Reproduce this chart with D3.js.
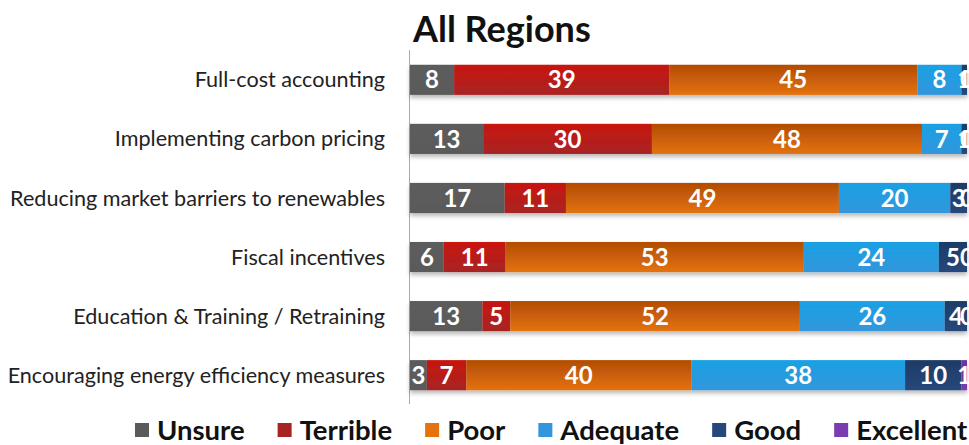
<!DOCTYPE html>
<html>
<head>
<meta charset="utf-8">
<script src="https://cdn.jsdelivr.net/npm/d3@7"></script>
<style>
  html, body { margin: 0; padding: 0; background: #fff; }
  svg { display: block; font-family: Lato, "Open Sans", sans-serif; }
</style>
</head>
<body>
<div id="chart"></div>
<script>
// les données
const categories = [
  "Full-cost accounting",
  "Implementing carbon pricing",
  "Reducing market barriers to renewables",
  "Fiscal incentives",
  "Education & Training / Retraining",
  "Encouraging energy efficiency measures"
];
const series = ["Unsure", "Terrible", "Poor", "Adequate", "Good", "Excellent"];
const unsure    = [8, 13, 17, 6, 13, 3];
const terrible  = [39, 30, 11, 11, 5, 7];
const poor      = [45, 48, 49, 53, 52, 40];
const adequate  = [8, 7, 20, 24, 26, 38];
const good      = [1, 1, 3, 5, 4, 10];
const excellent = [0, 0, 0, 0, 0, 1];

// couleurs : haut / bas du dégradé
const colors = [
  ["#5c5c5c", "#5a5a5a"],
  ["#c8160e", "#a82424"],
  ["#b24c04", "#e4720e"],
  ["#1aa0e4", "#3296dc"],
  ["#1e3c66", "#26477a"],
  ["#7030a0", "#7a3cb0"]
];

const values = [unsure, terrible, poor, adequate, good, excellent];
const rows = categories.map((c, i) => {
  const r = { name: c };
  series.forEach((s, j) => r[s] = values[j][i]);
  return r;
});

const W = 969, H = 445;
const margin = { top: 50, right: 2, bottom: 40, left: 410 };

const svg = d3.select("#chart").append("svg")
  .attr("width", W).attr("height", H);

const defs = svg.append("defs");
colors.forEach((c, j) => {
  const g = defs.append("linearGradient")
    .attr("id", "grad" + j)
    .attr("x1", 0).attr("y1", 0).attr("x2", 0).attr("y2", 1);
  g.append("stop").attr("offset", "0%").attr("stop-color", c[0]);
  g.append("stop").attr("offset", "100%").attr("stop-color", c[1]);
});
const filter = defs.append("filter").attr("id", "shadow")
  .attr("x", "-5%").attr("y", "-20%").attr("width", "110%").attr("height", "160%");
filter.append("feDropShadow")
  .attr("dx", 0).attr("dy", 3).attr("stdDeviation", 2)
  .attr("flood-color", "#000").attr("flood-opacity", 0.28);

// échelles (100 % empilé)
const x = d3.scaleLinear()
  .domain([0, 1])
  .range([margin.left, W - margin.right]);

const y = d3.scaleBand()
  .domain(categories)
  .range([margin.top, H - margin.bottom])
  .paddingInner(0.49)
  .paddingOuter(0.25);

const stacked = d3.stack()
  .keys(series)
  .offset(d3.stackOffsetExpand)(rows);

// titre
svg.append("text")
  .attr("x", 413).attr("y", 42)
  .attr("font-size", 36).attr("font-weight", 700)
  .attr("fill", "#111")
  .text("All Regions");

// axe vertical
svg.append("line")
  .attr("x1", margin.left - 0.5).attr("x2", margin.left - 0.5)
  .attr("y1", 50).attr("y2", 404)
  .attr("stroke", "#aaa").attr("stroke-width", 1);

// libellés des catégories
svg.append("g")
  .selectAll("text")
  .data(categories)
  .join("text")
  .attr("x", 385)
  .attr("y", d => y(d) + y.bandwidth() / 2)
  .attr("dy", "0.35em")
  .attr("text-anchor", "end")
  .attr("font-size", 21.6)
  .attr("fill", "#222")
  .text(d => d);

// barres
const layers = svg.append("g").attr("filter", "url(#shadow)")
  .selectAll("g")
  .data(stacked)
  .join("g")
  .attr("fill", (d, j) => "url(#grad" + j + ")");

layers.selectAll("rect")
  .data(d => d)
  .join("rect")
  .attr("x", d => x(d[0]))
  .attr("y", d => y(d.data.name))
  .attr("width", d => Math.max(0, x(d[1]) - x(d[0])))
  .attr("height", y.bandwidth());

// étiquettes de valeurs
const labels = svg.append("g")
  .selectAll("g")
  .data(stacked)
  .join("g");

labels.selectAll("text")
  .data(d => d.map(p => ({ p: p, key: d.key })))
  .join("text")
  .attr("x", d => (x(d.p[0]) + x(d.p[1])) / 2)
  .attr("y", d => y(d.p.data.name) + y.bandwidth() / 2)
  .attr("dy", "0.36em")
  .attr("text-anchor", "middle")
  .attr("font-size", 24)
  .attr("font-weight", 700)
  .attr("fill", "#fff")
  .text(d => d.p.data[d.key]);

// légende
const legend = svg.append("g");
let lx = 135;
series.forEach((s, j) => {
  const item = legend.append("g");
  item.append("rect")
    .attr("x", lx).attr("y", 423)
    .attr("width", 14).attr("height", 14)
    .attr("fill", colors[j][1]);
  const t = item.append("text")
    .attr("x", lx + 22).attr("y", 440)
    .attr("font-size", 27.5).attr("font-weight", 700)
    .attr("fill", "#111")
    .text(s);
  lx += 22 + t.node().getComputedTextLength() + 33;
});
</script>
</body>
</html>
